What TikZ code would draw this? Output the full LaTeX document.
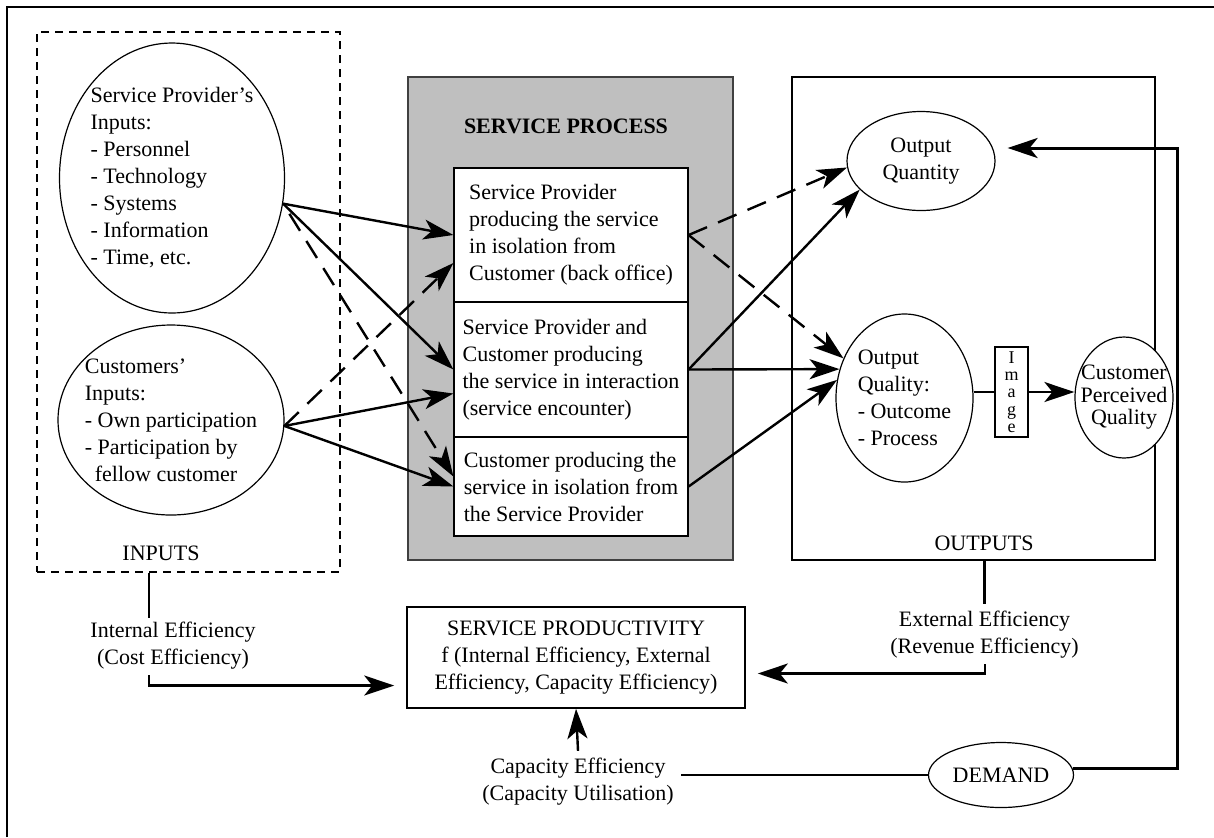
\documentclass[tikz,border=0pt]{standalone}
\usepackage{fontspec}
\setmainfont{Liberation Serif}
\usetikzlibrary{shapes.geometric,arrows.meta}

\begin{document}
\begin{tikzpicture}[x=0.5pt,y=-0.5pt,
        font=\fontsize{11}{13.5}\selectfont,
        oval/.style={ellipse,draw,line width=0.6pt,inner sep=0pt,align=center},
        cell/.style={rectangle,draw,line width=0.6pt,fill=white,inner sep=0pt,minimum width=117pt,align=left},
        frame/.style={rectangle,draw,line width=0.8pt,inner sep=0pt},
        arr/.style={-{Stealth[length=15pt,width=10pt,inset=4pt]},line width=1.2pt},
        darr/.style={arr,dash pattern=on 10pt off 6pt},
        link/.style={line width=1.2pt}]
        \useasboundingbox (0,0) rectangle (1214,837);
        \draw[line width=0.8pt] (7,837) -- (7,7) -- (1214,7);
        \node (inbox) [frame, dash pattern=on 4pt off 3pt, minimum width=151.5pt, minimum height=270pt] at (188.5,302) {};
        \node (procbox) [frame, fill=black!25, draw=black!75, line width=1pt, minimum width=162.5pt, minimum height=241.5pt] at (570.5,318.5) {};
        \node (outbox) [frame, minimum width=181.5pt, minimum height=241.5pt] at (973.5,318.5) {};
        \node (inlabel) at (161,553) {INPUTS};
        \node (outlabel) at (984,543) {OUTPUTS};
        \node (proclabel) [font=\fontsize{11}{13.5}\selectfont\bfseries] at (566,126) {SERVICE PROCESS};
        \node (spin) [oval, inner xsep=-1.5pt, minimum width=112.5pt, minimum height=135pt, align=left] at (172,178) {Service Provider’s\\Inputs:\\- Personnel\\- Technology\\- Systems\\- Information\\- Time, etc.};
        \node (cin) [oval, inner xsep=-4pt, minimum width=113pt, minimum height=95pt, align=left] at (171,420) {Customers’\\Inputs:\\- Own participation\\- Participation by\\\hspace*{5pt}fellow customer};
        \node (box1) [cell, minimum height=67pt] at (571,235) {Service Provider\\producing the service\\in isolation from\\Customer (back office)};
        \node (box2) [cell, minimum height=67.5pt] at (571,369.5) {Service Provider and\\Customer producing\\the service in interaction\\(service encounter)};
        \node (box3) [cell, minimum height=49.5pt] at (571,486.5) {Customer producing the\\service in isolation from\\the Service Provider};
        \node (oqty) [oval, minimum width=74pt, minimum height=49.5pt] at (921,161) {Output\\Quantity};
        \node (oqual) [oval, minimum width=68.5pt, minimum height=84pt, align=left] at (904.5,398) {Output\\Quality:\\- Outcome\\- Process};
        \node (img) [rectangle, draw, line width=0.6pt, inner sep=0pt, minimum width=16.5pt, minimum height=45pt, font=\fontsize{9}{8.6}\selectfont, align=center] at (1011.5,392) {I\\m\\a\\g\\e};
        \node (cpq) [oval, fill=white, inner xsep=-5pt, minimum width=49pt, minimum height=60.5pt, font=\fontsize{11}{11.25}\selectfont] at (1124,397.5) {Customer\\Perceived\\Quality};
        \node (prod) [frame, minimum width=169pt, minimum height=50.5pt, align=center] at (576,657.5) {SERVICE PRODUCTIVITY\\f (Internal Efficiency, External\\Efficiency, Capacity Efficiency)};
        \node (ieff) [align=center] at (173,645.5) {Internal Efficiency\\(Cost Efficiency)};
        \node (eeff) [align=center] at (984.5,635) {External Efficiency\\(Revenue Efficiency)};
        \node (ceff) [align=center] at (578,781.5) {Capacity Efficiency\\(Capacity Utilisation)};
        \node (dem) [oval, minimum width=72.5pt, minimum height=32.5pt] at (1001,775) {DEMAND};
        \coordinate (ia) at (149,618);
        \coordinate (ib) at (149,675);
        \coordinate (eb) at (985,664);
        \coordinate (fbtop) at (1177,148);
        \draw (spin.-13) edge [arr] (box1.west);
        \draw (spin.-13) edge [arr] (box2.west);
        \draw (spin.-13) edge [darr, dash phase=10pt] ([yshift=5pt]box3.west);
        \draw (cin.-3) edge [darr] ([yshift=-14pt]box1.west);
        \draw (cin.-3) edge [arr] ([yshift=-12pt]box2.west);
        \draw (cin.-3) edge [arr] (box3.west);
        \draw (box2.east) edge [arr] (oqty.205);
        \draw (box1.east) edge [darr] (oqty.185);
        \draw (box2.east) edge [arr] (oqual.156);
        \draw (box1.east) edge [darr] (oqual.147);
        \draw (box3.east) edge [arr] (oqual.165);
        \draw[link] (img.west -| oqual.east) -- (img.west);
        \draw[arr] (img.east) -- (img.east -| cpq.west);
        \draw[link] (inbox.south -| ia) -- (ia);
        \draw[arr, shorten >=6pt] (ib) |- ([yshift=-14pt]prod.west);
        \draw[link] (outbox.south -| eeff) -- (eeff.north);
        \draw[arr, shorten >=6pt] (eb) |- ([yshift=-8pt]prod.east);
        \draw[arr] (ceff.north) -- (prod.south);
        \draw[line width=1.4pt] (dem.west) -- (dem.west -| ceff.east);
        \draw[arr, line width=1.5pt, shorten >=6pt] (dem.5) -| (fbtop) -- (fbtop -| oqty.east);
\end{tikzpicture}
\end{document}
